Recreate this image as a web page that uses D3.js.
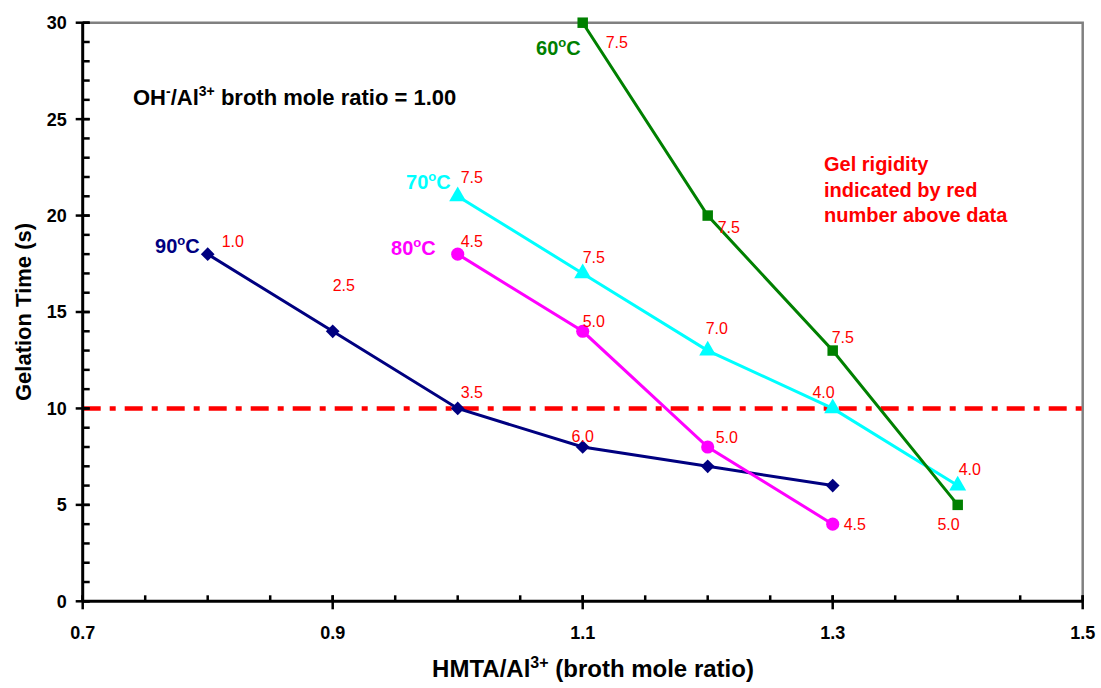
<!DOCTYPE html>
<html>
<head>
<meta charset="utf-8">
<script src="https://cdn.jsdelivr.net/npm/d3@7"></script>
<style>
  html, body { margin: 0; padding: 0; background: #fff; }
  svg { display: block; font-family: Arial, "Liberation Sans", Helvetica, sans-serif; }
</style>
</head>
<body>
<svg id="chart" width="1101" height="688"></svg>
<script>
// HMTA/Al3+ broth mole ratio for each gelation temperature
const hmta90 = [0.8, 0.9, 1.0, 1.1, 1.2, 1.3];
const hmta80 = [1.0, 1.1, 1.2, 1.3];
const hmta70 = [1.0, 1.1, 1.2, 1.3, 1.4];
const hmta60 = [1.1, 1.2, 1.3, 1.4];

// Gelation time (s)
const time90 = [18, 14, 10, 8, 7, 6];
const time80 = [18, 14, 8, 4];
const time70 = [21, 17, 13, 10, 6];
const time60 = [30, 20, 13, 5];

// Gel rigidity numbers written next to the points (null = no number)
const rigid90 = ["1.0", "2.5", "3.5", "6.0", null, null];
const rigid80 = ["4.5", "5.0", "5.0", "4.5"];
const rigid70 = ["7.5", "7.5", "7.0", "4.0", "4.0"];
const rigid60 = ["7.5", "7.5", "7.5", "5.0"];

const seriesNames = ["90", "80", "70", "60"];
const gelTarget = 10;   // reference gelation time (s)

const xTickValues = [0.7, 0.9, 1.1, 1.3, 1.5];
const yTickValues = [0, 5, 10, 15, 20, 25, 30];

// ---- layout / styling ----
const X0 = 82.7, X1 = 1082.7, Y0 = 601.3, Y1 = 22.7;
const x = d3.scaleLinear().domain([0.7, 1.5]).range([X0, X1]);
const y = d3.scaleLinear().domain([0, 30]).range([Y0, Y1]);

const styles = [
  { color: "#000080", marker: d3.symbolDiamond2, size: 120 },
  { color: "#FF00FF", marker: d3.symbolCircle, size: 135 },
  { color: "#00FFFF", marker: d3.symbolTriangle, size: 125 },
  { color: "#008000", marker: d3.symbolSquare, size: 110 }
];

// placement of the rigidity numbers: [dx, dy, anchor]
const rigidPlace = [
  [[14, -7, "start"], [0, -40, "start"], [3, -10, "start"], [0, -5, "middle"], null, null],
  [[3, -7, "start"], [0, -4, "start"], [8, -4, "start"], [11, 6, "start"]],
  [[3, -13, "start"], [0, -10, "start"], [-2, -17, "start"], [2, -10, "end"], [1, -11, "start"]],
  [[23, 25, "start"], [10, 17, "start"], [-1, -8, "start"], [2, 25, "end"]]
];
// placement of the temperature names relative to the first point: [dx, dy]
const namePlace = [[-8, -1], [-22, 1], [-7, -7], [-2, 32]];

const series = [
  { xs: hmta90, ys: time90, rig: rigid90 },
  { xs: hmta80, ys: time80, rig: rigid80 },
  { xs: hmta70, ys: time70, rig: rigid70 },
  { xs: hmta60, ys: time60, rig: rigid60 }
];

const svg = d3.select("#chart");

// plot frame: grey top/right border
svg.append("path")
  .attr("d", `M${X0},${Y1}H${X1}V${Y0}`)
  .attr("fill", "none").attr("stroke", "#808080").attr("stroke-width", 2.5);

// reference line at 10 s
svg.append("line")
  .attr("x1", X0).attr("x2", X1)
  .attr("y1", y(gelTarget)).attr("y2", y(gelTarget))
  .attr("stroke", "#FF0000").attr("stroke-width", 4.5)
  .attr("stroke-dasharray", "18,9,6,9");

// axes
const xMinor = d3.range(0, 17).map(i => 0.7 + i * 0.05);
const yMinor = d3.range(0, 31);

const gx = svg.append("g").attr("transform", `translate(0,${Y0})`);
gx.selectAll(".minor").data(xMinor).join("line")
  .attr("x1", d => x(d)).attr("x2", d => x(d))
  .attr("y1", -6).attr("y2", 0)
  .attr("stroke", "#000").attr("stroke-width", 2.5);
gx.selectAll(".major").data(xTickValues).join("line")
  .attr("x1", d => x(d)).attr("x2", d => x(d))
  .attr("y1", -6).attr("y2", 8)
  .attr("stroke", "#000").attr("stroke-width", 2.5);
gx.append("line").attr("x1", X0).attr("x2", X1).attr("y1", 0).attr("y2", 0)
  .attr("stroke", "#000").attr("stroke-width", 3);
gx.selectAll(".lab").data(xTickValues).join("text")
  .attr("x", d => x(d)).attr("y", 38)
  .attr("text-anchor", "middle")
  .attr("font-size", 18).attr("font-weight", "bold")
  .text(d => d3.format(".1f")(d));

const gy = svg.append("g").attr("transform", `translate(${X0},0)`);
gy.selectAll(".minor").data(yMinor).join("line")
  .attr("x1", 0).attr("x2", 7)
  .attr("y1", d => y(d)).attr("y2", d => y(d))
  .attr("stroke", "#000").attr("stroke-width", 2.5);
gy.selectAll(".major").data(yTickValues).join("line")
  .attr("x1", -7).attr("x2", 7)
  .attr("y1", d => y(d)).attr("y2", d => y(d))
  .attr("stroke", "#000").attr("stroke-width", 2.5);
gy.append("line").attr("x1", 0).attr("x2", 0).attr("y1", Y1).attr("y2", Y0)
  .attr("stroke", "#000").attr("stroke-width", 3);
gy.selectAll(".lab").data(yTickValues).join("text")
  .attr("x", -16).attr("y", d => y(d))
  .attr("dy", "0.36em")
  .attr("text-anchor", "end")
  .attr("font-size", 18).attr("font-weight", "bold")
  .text(d => d);

// axis titles
const xt = svg.append("text")
  .attr("x", 593).attr("y", 677)
  .attr("text-anchor", "middle")
  .attr("font-size", 24).attr("font-weight", "bold");
xt.append("tspan").text("HMTA/Al");
xt.append("tspan").attr("font-size", 16).attr("dy", -9).text("3+");
xt.append("tspan").attr("dy", 9).text(" (broth mole ratio)");

svg.append("text")
  .attr("transform", `translate(23,${(Y0 + Y1) / 2}) rotate(-90)`)
  .attr("text-anchor", "middle")
  .attr("dy", "0.36em")
  .attr("font-size", 22).attr("font-weight", "bold")
  .text("Gelation Time (s)");

// series
series.forEach((s, i) => {
  const st = styles[i];
  const pts = s.xs.map((v, k) => [v, s.ys[k], s.rig[k], k]);
  const g = svg.append("g");
  g.append("path")
    .datum(pts)
    .attr("d", d3.line().x(d => x(d[0])).y(d => y(d[1])))
    .attr("fill", "none").attr("stroke", st.color).attr("stroke-width", 3);
  g.selectAll(".pt").data(pts).join("path")
    .attr("transform", d => `translate(${x(d[0])},${y(d[1])})`)
    .attr("d", d3.symbol().type(st.marker).size(st.size))
    .attr("fill", st.color);

  // temperature name
  const p0 = pts[0];
  const np = namePlace[i];
  const nt = g.append("text")
    .attr("x", x(p0[0]) + np[0]).attr("y", y(p0[1]) + np[1])
    .attr("text-anchor", "end")
    .attr("font-size", 20).attr("font-weight", "bold")
    .attr("fill", st.color);
  nt.append("tspan").text(seriesNames[i]);
  nt.append("tspan").attr("font-size", 13).attr("dy", -8).text("o");
  nt.append("tspan").attr("dy", 8).text("C");
});

// rigidity numbers (drawn on top)
series.forEach((s, i) => {
  const pts = s.xs.map((v, k) => [v, s.ys[k], s.rig[k], k]).filter(d => d[2] !== null);
  svg.append("g").selectAll("text").data(pts).join("text")
    .attr("x", d => x(d[0]) + rigidPlace[i][d[3]][0])
    .attr("y", d => y(d[1]) + rigidPlace[i][d[3]][1])
    .attr("text-anchor", d => rigidPlace[i][d[3]][2])
    .attr("font-size", 16)
    .attr("fill", "#FF0000")
    .text(d => d[2]);
});

// annotations
const ann = svg.append("text")
  .attr("x", 133).attr("y", 105)
  .attr("font-size", 22).attr("font-weight", "bold");
ann.append("tspan").text("OH");
ann.append("tspan").attr("font-size", 14).attr("dy", -9).text("-");
ann.append("tspan").attr("dy", 9).text("/Al");
ann.append("tspan").attr("font-size", 14).attr("dy", -9).text("3+");
ann.append("tspan").attr("dy", 9).text(" broth mole ratio = 1.00");

const note = ["Gel rigidity", "indicated by red", "number above data"];
svg.append("text")
  .attr("font-size", 20).attr("font-weight", "bold").attr("fill", "#FF0000")
  .selectAll("tspan").data(note).join("tspan")
  .attr("x", 824).attr("y", (d, k) => 171 + k * 25.5)
  .text(d => d);
</script>
</body>
</html>
